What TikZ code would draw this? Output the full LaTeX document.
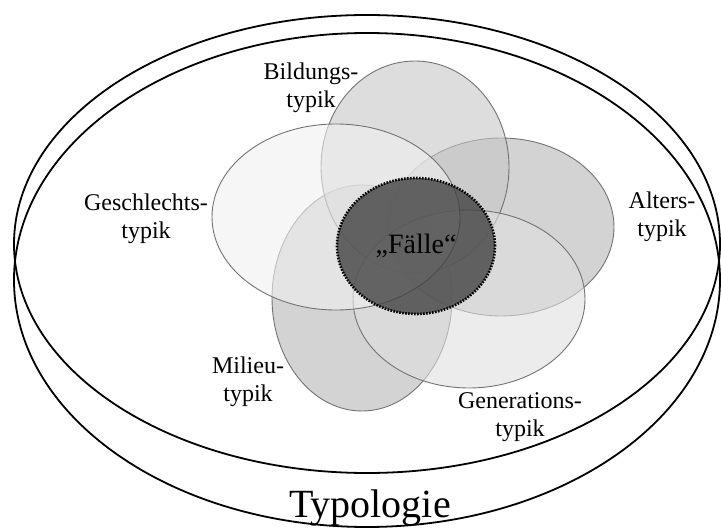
\documentclass[tikz,border=0pt]{standalone}
\usepackage{fontspec}
\setmainfont{Liberation Serif}
\usetikzlibrary{shapes.geometric, positioning}
\tikzset{
  every picture/.style={line width=0.8pt},
  rim/.style={draw, ellipse, inner sep=0cm, line width=1.8pt},
  petal/.style={draw=black!55, ellipse, inner sep=0cm, line width=0.9pt, fill opacity=0.6},
  core/.style={draw, ellipse, inner sep=0cm, line width=2.6pt, dash pattern=on 1.6pt off 1.4pt,
    fill=black!74, fill opacity=0.8, text opacity=1, font=\fontsize{28}{32}\selectfont},
  typ/.style={align=center, font=\fontsize{24}{28}\selectfont}
}

\begin{document}
\begin{tikzpicture}[x=1pt, y=-1pt]
    \useasboundingbox (0,0) rectangle (721,529);

    \node [rim, minimum width=706pt, minimum height=458pt] (rim1) at (367,244) {};
    \node [rim, minimum width=706pt, minimum height=494pt] (rim2) at (367,280) {};

    \node [petal, fill=black!29, minimum width=180pt, minimum height=226pt] (milieu) at (362,298) {};
    \node [petal, fill=black!29, minimum width=226pt, minimum height=178pt] (alter) at (501,227) {};
    \node [petal, fill=black!22, minimum width=188pt, minimum height=212pt] (bildung) at (415,167) {};
    \node [petal, fill=black!12, minimum width=232pt, minimum height=178pt] (generation) at (469,299) {};
    \node [petal, fill=black!6, minimum width=248pt, minimum height=186pt] (geschlecht) at (336,217) {};

    \node [core, minimum width=158pt, minimum height=136pt] (faelle) at (416,246) {„Fälle“};

    \node [typ] (tbildung) at (311,88) {Bildungs-\\typik};
    \node [typ] (tgeschlecht) at (146,219) {Geschlechts-\\typik};
    \node [typ] (talter) at (662,217) {Alters-\\typik};
    \node [typ] (tmilieu) at (248,382) {Milieu-\\typik};
    \node [typ] (tgeneration) at (520,417) {Generations-\\typik};

    \node [anchor=base, font=\fontsize{40}{44}\selectfont] (typologie) at (370,518) {Typologie};
\end{tikzpicture}
\end{document}
